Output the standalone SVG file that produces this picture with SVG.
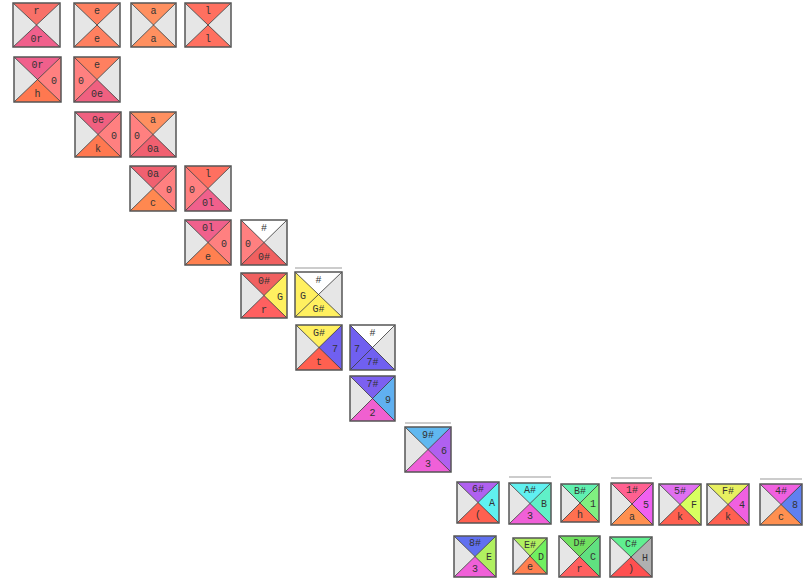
<svg xmlns="http://www.w3.org/2000/svg" width="809" height="583" viewBox="0 0 809 583">
<style>
.bg{fill:#ffffff}
.e{fill:#e6e6e6}
.w{fill:#ffffff}
.frame{fill:none;stroke:#555;stroke-width:1.5}
.dg{fill:none;stroke:#333;stroke-width:0.8}
text{font-family:"Liberation Mono","DejaVu Sans Mono",monospace;font-size:10px;text-anchor:middle;fill:#333}
.bar{stroke:#999;stroke-width:1.2}
</style>
<rect class="bg" x="0" y="0" width="809" height="583"/>
<g id="connectors">
<line class="bar" x1="295" y1="268" x2="342" y2="268"/>
<line class="bar" x1="405" y1="423" x2="451" y2="423"/>
<line class="bar" x1="509" y1="477" x2="551" y2="477"/>
<line class="bar" x1="611" y1="478" x2="652" y2="478"/>
<line class="bar" x1="760" y1="479" x2="802" y2="479"/>
</g>

<g id="t1" transform="translate(13,3)">
<polygon points="0,0 47,0 23.5,22" fill="#f87068"/><polygon class="e" points="47,0 47,44 23.5,22"/><polygon points="0,44 47,44 23.5,22" fill="#f0608c"/><polygon class="e" points="0,0 0,44 23.5,22"/>
<path class="dg" d="M0,0L47,44M47,0L0,44"/><rect class="frame" width="47" height="44"/>
<text x="23.5" y="11">r</text><text x="23.5" y="39">0r</text>
</g>
<g id="t2" transform="translate(74,3)">
<polygon points="0,0 46,0 23,22" fill="#ff8060"/><polygon class="e" points="46,0 46,44 23,22"/><polygon points="0,44 46,44 23,22" fill="#ff8060"/><polygon class="e" points="0,0 0,44 23,22"/>
<path class="dg" d="M0,0L46,44M46,0L0,44"/><rect class="frame" width="46" height="44"/>
<text x="23" y="11">e</text><text x="23" y="39">e</text>
</g>
<g id="t3" transform="translate(131,3)">
<polygon points="0,0 45,0 22.5,22" fill="#ff9060"/><polygon class="e" points="45,0 45,44 22.5,22"/><polygon points="0,44 45,44 22.5,22" fill="#ff9060"/><polygon class="e" points="0,0 0,44 22.5,22"/>
<path class="dg" d="M0,0L45,44M45,0L0,44"/><rect class="frame" width="45" height="44"/>
<text x="22.5" y="11">a</text><text x="22.5" y="39">a</text>
</g>
<g id="t4" transform="translate(185,3)">
<polygon points="0,0 46,0 23,22" fill="#ff7060"/><polygon class="e" points="46,0 46,44 23,22"/><polygon points="0,44 46,44 23,22" fill="#ff7060"/><polygon class="e" points="0,0 0,44 23,22"/>
<path class="dg" d="M0,0L46,44M46,0L0,44"/><rect class="frame" width="46" height="44"/>
<text x="23" y="11">l</text><text x="23" y="39">l</text>
</g>

<g id="t5" transform="translate(14,57)">
<polygon points="0,0 47,0 23.5,22.5" fill="#f0608c"/><polygon points="47,0 47,45 23.5,22.5" fill="#ff8080"/><polygon points="0,45 47,45 23.5,22.5" fill="#ff7850"/><polygon class="e" points="0,0 0,45 23.5,22.5"/>
<path class="dg" d="M0,0L47,45M47,0L0,45"/><rect class="frame" width="47" height="45"/>
<text x="23.5" y="11">0r</text><text x="40" y="26.5">0</text><text x="23.5" y="40">h</text>
</g>
<g id="t6" transform="translate(74,57)">
<polygon points="0,0 46,0 23,22.5" fill="#ff8060"/><polygon class="e" points="46,0 46,45 23,22.5"/><polygon points="0,45 46,45 23,22.5" fill="#f06080"/><polygon points="0,0 0,45 23,22.5" fill="#ff8080"/>
<path class="dg" d="M0,0L46,45M46,0L0,45"/><rect class="frame" width="46" height="45"/>
<text x="23" y="11">e</text><text x="7" y="26.5">0</text><text x="23" y="40">0e</text>
</g>

<g id="t7" transform="translate(75,112)">
<polygon points="0,0 46,0 23,22.5" fill="#f06080"/><polygon points="46,0 46,45 23,22.5" fill="#ff8080"/><polygon points="0,45 46,45 23,22.5" fill="#ff7850"/><polygon class="e" points="0,0 0,45 23,22.5"/>
<path class="dg" d="M0,0L46,45M46,0L0,45"/><rect class="frame" width="46" height="45"/>
<text x="23" y="11">0e</text><text x="39" y="26.5">0</text><text x="23" y="40">k</text>
</g>
<g id="t8" transform="translate(130,112)">
<polygon points="0,0 46,0 23,22.5" fill="#ff9060"/><polygon class="e" points="46,0 46,45 23,22.5"/><polygon points="0,45 46,45 23,22.5" fill="#f06070"/><polygon points="0,0 0,45 23,22.5" fill="#ff8080"/>
<path class="dg" d="M0,0L46,45M46,0L0,45"/><rect class="frame" width="46" height="45"/>
<text x="23" y="11">a</text><text x="7" y="26.5">0</text><text x="23" y="40">0a</text>
</g>

<g id="t9" transform="translate(130,166)">
<polygon points="0,0 46,0 23,22.5" fill="#f06070"/><polygon points="46,0 46,45 23,22.5" fill="#ff8080"/><polygon points="0,45 46,45 23,22.5" fill="#ff8850"/><polygon class="e" points="0,0 0,45 23,22.5"/>
<path class="dg" d="M0,0L46,45M46,0L0,45"/><rect class="frame" width="46" height="45"/>
<text x="23" y="11">0a</text><text x="39" y="26.5">0</text><text x="23" y="40">c</text>
</g>
<g id="t10" transform="translate(185,166)">
<polygon points="0,0 46,0 23,22.5" fill="#ff7060"/><polygon class="e" points="46,0 46,45 23,22.5"/><polygon points="0,45 46,45 23,22.5" fill="#f0608c"/><polygon points="0,0 0,45 23,22.5" fill="#ff8080"/>
<path class="dg" d="M0,0L46,45M46,0L0,45"/><rect class="frame" width="46" height="45"/>
<text x="23" y="11">l</text><text x="7" y="26.5">0</text><text x="23" y="40">0l</text>
</g>

<g id="t11" transform="translate(185,220)">
<polygon points="0,0 46,0 23,22.5" fill="#f0608c"/><polygon points="46,0 46,45 23,22.5" fill="#ff8080"/><polygon points="0,45 46,45 23,22.5" fill="#ff8050"/><polygon class="e" points="0,0 0,45 23,22.5"/>
<path class="dg" d="M0,0L46,45M46,0L0,45"/><rect class="frame" width="46" height="45"/>
<text x="23" y="11">0l</text><text x="39" y="26.5">0</text><text x="23" y="40">e</text>
</g>
<g id="t12" transform="translate(241,220)">
<polygon class="w" points="0,0 46,0 23,22.5"/><polygon class="e" points="46,0 46,45 23,22.5"/><polygon points="0,45 46,45 23,22.5" fill="#f06060"/><polygon points="0,0 0,45 23,22.5" fill="#ff8080"/>
<path class="dg" d="M0,0L46,45M46,0L0,45"/><rect class="frame" width="46" height="45"/>
<text x="23" y="11">#</text><text x="7" y="26.5">0</text><text x="23" y="40">0#</text>
</g>

<g id="t13" transform="translate(241,273)">
<polygon points="0,0 46,0 23,22.5" fill="#f06060"/><polygon points="46,0 46,45 23,22.5" fill="#fff060"/><polygon points="0,45 46,45 23,22.5" fill="#ff6060"/><polygon class="e" points="0,0 0,45 23,22.5"/>
<path class="dg" d="M0,0L46,45M46,0L0,45"/><rect class="frame" width="46" height="45"/>
<text x="23" y="11">0#</text><text x="39" y="26.5">G</text><text x="23" y="40">r</text>
</g>
<g id="t14" transform="translate(295,272)">
<polygon class="w" points="0,0 47,0 23.5,22.5"/><polygon class="e" points="47,0 47,45 23.5,22.5"/><polygon points="0,45 47,45 23.5,22.5" fill="#fff060"/><polygon points="0,0 0,45 23.5,22.5" fill="#fff060"/>
<path class="dg" d="M0,0L47,45M47,0L0,45"/><rect class="frame" width="47" height="45"/>
<text x="23.5" y="11">#</text><text x="8" y="26.5">G</text><text x="23.5" y="40">G#</text>
</g>

<g id="t15" transform="translate(296,325)">
<polygon points="0,0 46,0 23,22.5" fill="#fff060"/><polygon points="46,0 46,45 23,22.5" fill="#7060f0"/><polygon points="0,45 46,45 23,22.5" fill="#ff6050"/><polygon class="e" points="0,0 0,45 23,22.5"/>
<path class="dg" d="M0,0L46,45M46,0L0,45"/><rect class="frame" width="46" height="45"/>
<text x="23" y="11">G#</text><text x="39" y="26.5">7</text><text x="23" y="40">t</text>
</g>
<g id="t16" transform="translate(350,325)">
<polygon class="w" points="0,0 45,0 22.5,22.5"/><polygon class="e" points="45,0 45,45 22.5,22.5"/><polygon points="0,45 45,45 22.5,22.5" fill="#7060f0"/><polygon points="0,0 0,45 22.5,22.5" fill="#7060f0"/>
<path class="dg" d="M0,0L45,45M45,0L0,45"/><rect class="frame" width="45" height="45"/>
<text x="22.5" y="11">#</text><text x="7" y="26.5">7</text><text x="22.5" y="40">7#</text>
</g>

<g id="t17" transform="translate(350,376)">
<polygon points="0,0 45,0 22.5,22.5" fill="#7c60f0"/><polygon points="45,0 45,45 22.5,22.5" fill="#60b0f0"/><polygon points="0,45 45,45 22.5,22.5" fill="#f060d0"/><polygon class="e" points="0,0 0,45 22.5,22.5"/>
<path class="dg" d="M0,0L45,45M45,0L0,45"/><rect class="frame" width="45" height="45"/>
<text x="22.5" y="11">7#</text><text x="38" y="26.5">9</text><text x="22.5" y="40">2</text>
</g>

<g id="t18" transform="translate(405,427)">
<polygon points="0,0 46,0 23,22.5" fill="#60b8f0"/><polygon points="46,0 46,45 23,22.5" fill="#b060f0"/><polygon points="0,45 46,45 23,22.5" fill="#f060d8"/><polygon class="e" points="0,0 0,45 23,22.5"/>
<path class="dg" d="M0,0L46,45M46,0L0,45"/><rect class="frame" width="46" height="45"/>
<text x="23" y="11">9#</text><text x="39" y="26.5">6</text><text x="23" y="40">3</text>
</g>

<g id="t19" transform="translate(457,482)">
<polygon points="0,0 42,0 21,20.5" fill="#b060f0"/><polygon points="42,0 42,41 21,20.5" fill="#60f0f0"/><polygon points="0,41 42,41 21,20.5" fill="#ff6050"/><polygon class="e" points="0,0 0,41 21,20.5"/>
<path class="dg" d="M0,0L42,41M42,0L0,41"/><rect class="frame" width="42" height="41"/>
<text x="21" y="10">6#</text><text x="35" y="24">A</text><text x="21" y="36">(</text>
</g>
<g id="t20" transform="translate(509,483)">
<polygon points="0,0 42,0 21,20.5" fill="#60f0f0"/><polygon points="42,0 42,41 21,20.5" fill="#60f0c8"/><polygon points="0,41 42,41 21,20.5" fill="#f060d8"/><polygon class="e" points="0,0 0,41 21,20.5"/>
<path class="dg" d="M0,0L42,41M42,0L0,41"/><rect class="frame" width="42" height="41"/>
<text x="21" y="10">A#</text><text x="35" y="24">B</text><text x="21" y="36">3</text>
</g>
<g id="t21" transform="translate(561,484)">
<polygon points="0,0 38,0 19,19" fill="#60f0b0"/><polygon points="38,0 38,38 19,19" fill="#80f080"/><polygon points="0,38 38,38 19,19" fill="#ff7050"/><polygon class="e" points="0,0 0,38 19,19"/>
<path class="dg" d="M0,0L38,38M38,0L0,38"/><rect class="frame" width="38" height="38"/>
<text x="19" y="10">B#</text><text x="32" y="22.5">1</text><text x="19" y="34">h</text>
</g>
<g id="t22" transform="translate(611,483)">
<polygon points="0,0 42,0 21,21" fill="#ff6090"/><polygon points="42,0 42,42 21,21" fill="#f060f0"/><polygon points="0,42 42,42 21,21" fill="#ff9050"/><polygon class="e" points="0,0 0,42 21,21"/>
<path class="dg" d="M0,0L42,42M42,0L0,42"/><rect class="frame" width="42" height="42"/>
<text x="21" y="10">1#</text><text x="35" y="24.5">5</text><text x="21" y="37">a</text>
</g>
<g id="t23" transform="translate(659,484)">
<polygon points="0,0 42,0 21,20.5" fill="#e070f0"/><polygon points="42,0 42,41 21,20.5" fill="#d8ff60"/><polygon points="0,41 42,41 21,20.5" fill="#ff6050"/><polygon class="e" points="0,0 0,41 21,20.5"/>
<path class="dg" d="M0,0L42,41M42,0L0,41"/><rect class="frame" width="42" height="41"/>
<text x="21" y="10">5#</text><text x="35" y="24">F</text><text x="21" y="36">k</text>
</g>
<g id="t24" transform="translate(707,484)">
<polygon points="0,0 42,0 21,20.5" fill="#e8f060"/><polygon points="42,0 42,41 21,20.5" fill="#f060e0"/><polygon points="0,41 42,41 21,20.5" fill="#ff6050"/><polygon class="e" points="0,0 0,41 21,20.5"/>
<path class="dg" d="M0,0L42,41M42,0L0,41"/><rect class="frame" width="42" height="41"/>
<text x="21" y="10">F#</text><text x="35" y="24">4</text><text x="21" y="36">k</text>
</g>
<g id="t25" transform="translate(760,484)">
<polygon points="0,0 42,0 21,20.5" fill="#f060e0"/><polygon points="42,0 42,41 21,20.5" fill="#6080f0"/><polygon points="0,41 42,41 21,20.5" fill="#ff9050"/><polygon class="e" points="0,0 0,41 21,20.5"/>
<path class="dg" d="M0,0L42,41M42,0L0,41"/><rect class="frame" width="42" height="41"/>
<text x="21" y="10">4#</text><text x="35" y="24">8</text><text x="21" y="36">c</text>
</g>

<g id="t26" transform="translate(454,536)">
<polygon points="0,0 42,0 21,20.5" fill="#6070f0"/><polygon points="42,0 42,41 21,20.5" fill="#b0f060"/><polygon points="0,41 42,41 21,20.5" fill="#f060d8"/><polygon class="e" points="0,0 0,41 21,20.5"/>
<path class="dg" d="M0,0L42,41M42,0L0,41"/><rect class="frame" width="42" height="41"/>
<text x="21" y="10">8#</text><text x="35" y="24">E</text><text x="21" y="36">3</text>
</g>
<g id="t27" transform="translate(513,538)">
<polygon points="0,0 34,0 17,18" fill="#b0f060"/><polygon points="34,0 34,36 17,18" fill="#70f060"/><polygon points="0,36 34,36 17,18" fill="#ff8050"/><polygon class="e" points="0,0 0,36 17,18"/>
<path class="dg" d="M0,0L34,36M34,0L0,36"/><rect class="frame" width="34" height="36"/>
<text x="17" y="10">E#</text><text x="28" y="21.5">D</text><text x="17" y="32">e</text>
</g>
<g id="t28" transform="translate(559,536)">
<polygon points="0,0 41,0 20.5,20.5" fill="#70e060"/><polygon points="41,0 41,41 20.5,20.5" fill="#60e080"/><polygon points="0,41 41,41 20.5,20.5" fill="#ff6060"/><polygon class="e" points="0,0 0,41 20.5,20.5"/>
<path class="dg" d="M0,0L41,41M41,0L0,41"/><rect class="frame" width="41" height="41"/>
<text x="20.5" y="10">D#</text><text x="34" y="24">C</text><text x="20.5" y="36">r</text>
</g>
<g id="t29" transform="translate(610,537)">
<polygon points="0,0 42,0 21,20" fill="#60f090"/><polygon points="42,0 42,40 21,20" fill="#b0b0b0"/><polygon points="0,40 42,40 21,20" fill="#ff5050"/><polygon class="e" points="0,0 0,40 21,20"/>
<path class="dg" d="M0,0L42,40M42,0L0,40"/><rect class="frame" width="42" height="40"/>
<text x="21" y="10">C#</text><text x="35" y="23.5">H</text><text x="21" y="35">)</text>
</g>
</svg>
